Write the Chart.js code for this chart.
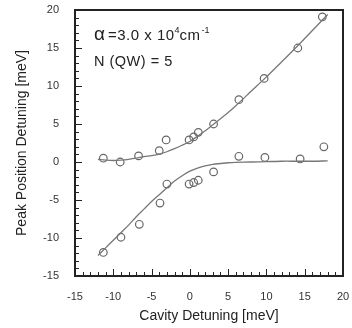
<!DOCTYPE html>
<html>
<head>
<meta charset="utf-8">
<script src="https://cdn.jsdelivr.net/npm/chart.js@4"></script>
<style>
  html, body { margin: 0; padding: 0; background: #fff; }
  #wrap { width: 352px; height: 328px; }
</style>
</head>
<body>
<div id="wrap"><canvas id="chart" width="352" height="328"></canvas></div>
<script>
// dados medidos (círculos)
const upperX = [-11.3, -9.1, -6.7, -4.0, -3.1, -0.1, 0.5, 1.1, 3.1, 6.4, 9.7, 14.1, 17.3];
const upperY = [0.5, 0.0, 0.8, 1.5, 2.9, 2.9, 3.3, 3.9, 5.0, 8.2, 11.0, 15.0, 19.1];
const lowerX = [-11.3, -9.0, -6.6, -3.9, -3.0, -0.1, 0.5, 1.1, 3.1, 6.4, 9.8, 14.4, 17.5];
const lowerY = [-11.9, -9.9, -8.2, -5.4, -2.9, -2.9, -2.7, -2.4, -1.3, 0.75, 0.6, 0.4, 2.0];

// curvas ajustadas
const fitX = [-12, -11, -10, -9, -8, -7, -6, -5, -4, -3, -2, -1, 0, 1, 2, 3, 4, 5, 6, 8, 10, 12, 14, 16, 18];
const upperFit = [0.35, 0.25, 0.2, 0.25, 0.35, 0.5, 0.7, 0.85, 1.05, 1.35, 1.75, 2.2, 2.7, 3.4, 4.1, 4.9, 5.7, 6.5, 7.4, 9.3, 11.2, 13.2, 15.2, 17.3, 19.4];
const lowerFit = [-12.3, -11.3, -10.3, -9.3, -8.3, -7.2, -6.2, -5.2, -4.3, -3.4, -2.5, -1.8, -1.2, -0.8, -0.5, -0.3, -0.2, -0.1, -0.05, 0, 0.05, 0.1, 0.1, 0.1, 0.15];

// eixos
const xTicks = [-15, -10, -5, 0, 5, 10, 15, 20];
const yTicks = [-15, -10, -5, 0, 5, 10, 15, 20];

const pts = (xs, ys) => xs.map((x, i) => ({ x: x, y: ys[i] }));
const FONT = '"Liberation Sans", Arial, sans-serif';

// moldura, ticks internos e anotação
const framePlugin = {
  id: 'frame',
  afterDraw(chart) {
    const ctx = chart.ctx;
    const xs = chart.scales.x, ys = chart.scales.y;
    const L = Math.round(xs.getPixelForValue(-15)), R = Math.round(xs.getPixelForValue(20));
    const T = Math.round(ys.getPixelForValue(20)), B = Math.round(ys.getPixelForValue(-15));
    ctx.save();
    ctx.fillStyle = '#222';
    ctx.fillRect(L - 1, T - 1, R - L + 2, 2);
    ctx.fillRect(L - 1, B - 1, R - L + 2, 2);
    ctx.fillRect(L - 1, T - 1, 2, B - T + 2);
    ctx.fillRect(R - 1, T - 1, 2, B - T + 2);
    for (let v = -15; v <= 20; v++) {
      const len = v % 5 === 0 ? 6 : 3;
      const py = Math.round(ys.getPixelForValue(v));
      ctx.fillRect(L, py, len + 1, 1);
      const px = Math.round(xs.getPixelForValue(v));
      ctx.fillRect(px, B - len - 1, 1, len + 1);
    }

    // texto
    ctx.fillStyle = '#222';
    ctx.textBaseline = 'alphabetic';
    ctx.textAlign = 'left';
    let x = 94;
    const y1 = 40;
    ctx.font = '19px ' + FONT;
    ctx.fillText('α', x, y1);
    x += ctx.measureText('α').width + 3;
    ctx.letterSpacing = '0.5px';
    ctx.font = '15px ' + FONT;
    ctx.fillText('=3.0 x 10', x, y1);
    x += ctx.measureText('=3.0 x 10').width;
    ctx.letterSpacing = '0px';
    ctx.font = '9px ' + FONT;
    ctx.fillText('4', x, y1 - 7);
    x += ctx.measureText('4').width;
    ctx.letterSpacing = '0.5px';
    ctx.font = '15px ' + FONT;
    ctx.fillText('cm', x, y1);
    x += ctx.measureText('cm').width;
    ctx.letterSpacing = '0px';
    ctx.font = '9px ' + FONT;
    ctx.fillText('-1', x + 1, y1 - 7);
    ctx.letterSpacing = '0.5px';
    ctx.font = '14.5px ' + FONT;
    ctx.fillText('N (QW) = 5', 94, 66);
    ctx.restore();
  }
};

new Chart(document.getElementById('chart').getContext('2d'), {
  type: 'scatter',
  data: {
    datasets: [
      { data: pts(fitX, upperFit), showLine: true, borderColor: '#777', borderWidth: 1.3, pointRadius: 0, tension: 0.3 },
      { data: pts(fitX, lowerFit), showLine: true, borderColor: '#777', borderWidth: 1.3, pointRadius: 0, tension: 0.3 },
      { data: pts(upperX, upperY), borderColor: '#666', backgroundColor: 'rgba(0,0,0,0)', borderWidth: 1.2, pointRadius: 3.8 },
      { data: pts(lowerX, lowerY), borderColor: '#666', backgroundColor: 'rgba(0,0,0,0)', borderWidth: 1.2, pointRadius: 3.8 }
    ]
  },
  options: {
    responsive: false,
    animation: false,
    layout: { padding: { left: 0, right: 9, top: 10, bottom: 0 } },
    plugins: {
      legend: { display: false },
      tooltip: { enabled: false }
    },
    scales: {
      x: {
        type: 'linear',
        min: -15,
        max: 20,
        afterFit: s => { s.height = 52; s.paddingLeft = 0; s.paddingRight = 0; },
        afterBuildTicks: s => { s.ticks = xTicks.map(v => ({ value: v })); },
        grid: { display: false, drawTicks: false },
        border: { display: false },
        ticks: { color: '#333', font: { family: FONT, size: 11 }, padding: 14, maxRotation: 0 },
        title: { display: true, text: 'Cavity Detuning [meV]', color: '#222', font: { family: FONT, size: 14 }, padding: { top: 0, bottom: 3 } }
      },
      y: {
        type: 'linear',
        min: -15,
        max: 20,
        afterFit: s => { s.width = 75; s.paddingTop = 0; s.paddingBottom = 0; },
        afterBuildTicks: s => { s.ticks = yTicks.map(v => ({ value: v })); },
        grid: { display: false, drawTicks: false },
        border: { display: false },
        ticks: { color: '#333', font: { family: FONT, size: 11 }, padding: 16 },
        title: { display: true, text: 'Peak Position Detuning [meV]', color: '#222', font: { family: FONT, size: 14 }, padding: { top: 14, bottom: 0 } }
      }
    }
  },
  plugins: [framePlugin]
});
</script>
</body>
</html>
